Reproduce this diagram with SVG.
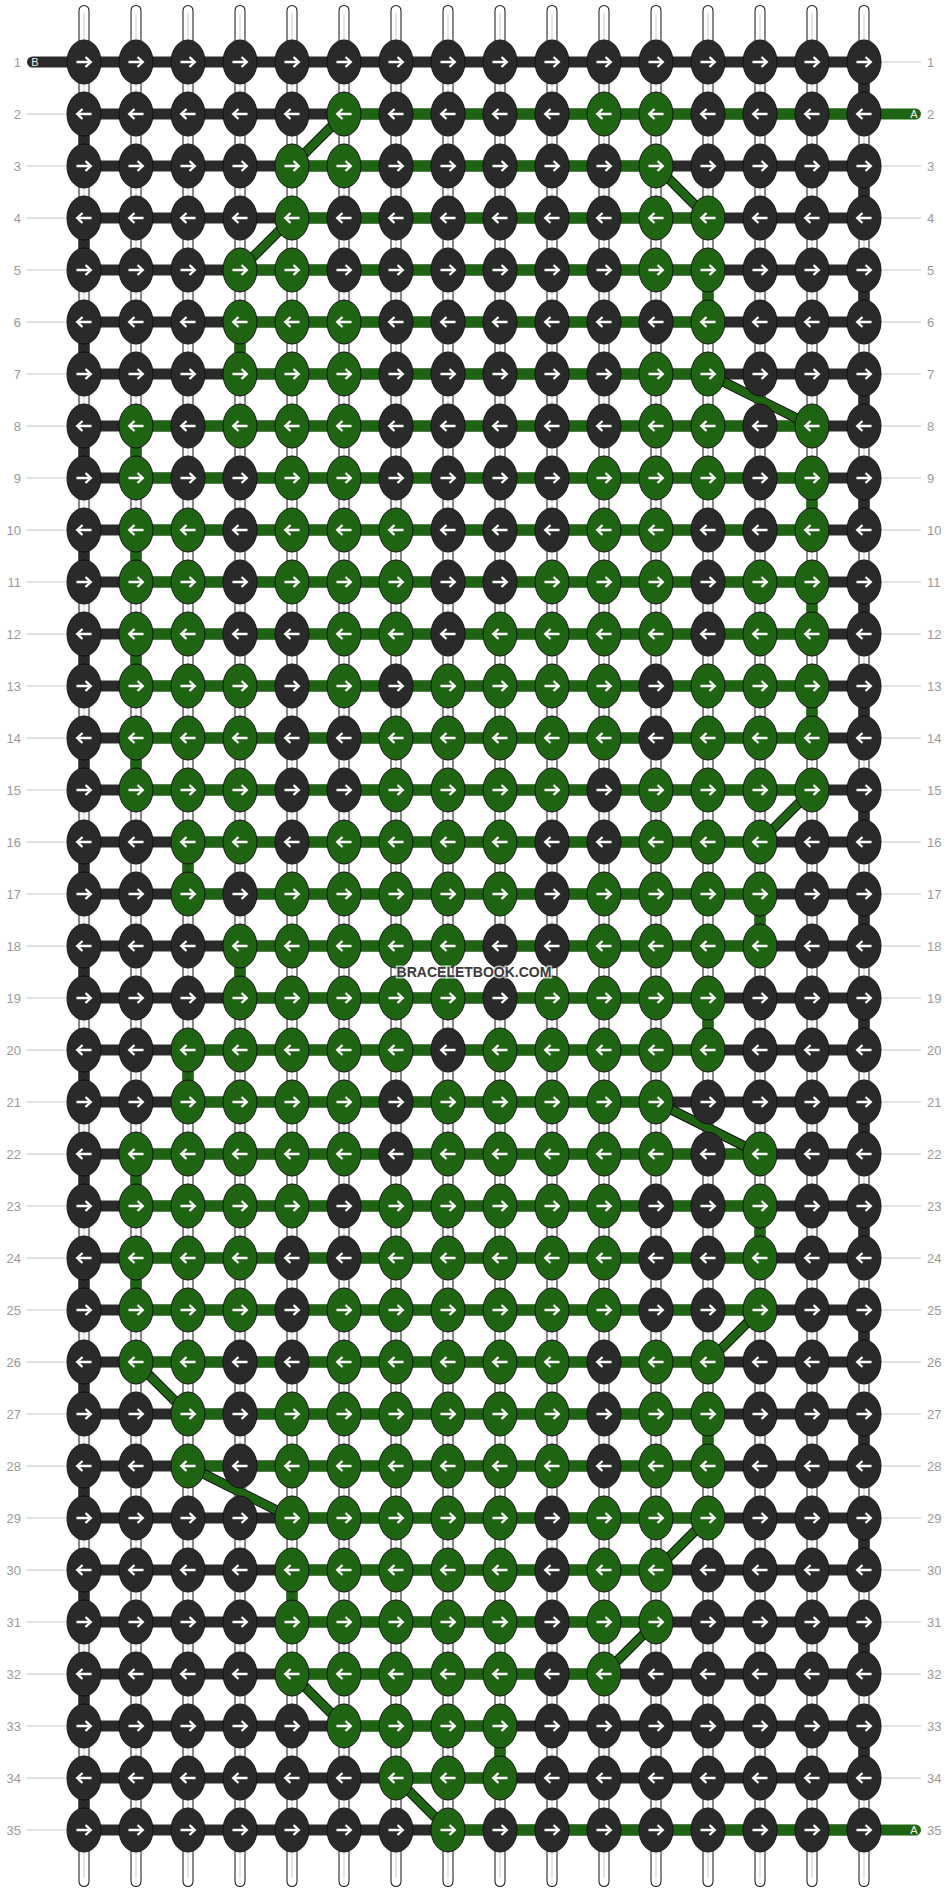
<svg xmlns="http://www.w3.org/2000/svg" width="948" height="1892" viewBox="0 0 948 1892">
<style>
.d{fill:#2a2a2a}
.g{fill:#1f6412}
ellipse{rx:17px;ry:22px;stroke:#111;stroke-width:1}
.lbl{font-family:"Liberation Sans",Arial,sans-serif;font-size:13px;fill:#9a9a9a}
.lr{text-anchor:end}
.tag{font-family:"Liberation Sans",Arial,sans-serif;font-size:11px;fill:#f0f0f0;text-anchor:middle}
.wm{font-family:"Liberation Sans",Arial,sans-serif;font-size:14px;font-weight:bold;fill:#3a3a3a;text-anchor:middle;stroke:rgba(255,255,255,0.7);stroke-width:3px;paint-order:stroke}
</style>
<defs>
<path id="R" d="M-7.5,0H6.5M1.5,-5L6.8,0L1.5,5" fill="none" stroke="#fff" stroke-width="2.3"/>
<path id="L" d="M7.5,0H-6.5M-1.5,-5L-6.8,0L-1.5,5" fill="none" stroke="#fff" stroke-width="2.3"/>
</defs>
<rect width="948" height="1892" fill="#fff"/>
<g id="labels-lines" stroke="#c4c4c4" stroke-width="1">
<path d="M26,114H66M26,166H66M26,218H66M26,270H66M26,322H66M26,374H66M26,426H66M26,478H66M26,530H66M26,582H66M26,634H66M26,686H66M26,738H66M26,790H66M26,842H66M26,894H66M26,946H66M26,998H66M26,1050H66M26,1102H66M26,1154H66M26,1206H66M26,1258H66M26,1310H66M26,1362H66M26,1414H66M26,1466H66M26,1518H66M26,1570H66M26,1622H66M26,1674H66M26,1726H66M26,1778H66M26,1830H66"/>
<path d="M882,62H921M882,166H921M882,218H921M882,270H921M882,322H921M882,374H921M882,426H921M882,478H921M882,530H921M882,582H921M882,634H921M882,686H921M882,738H921M882,790H921M882,842H921M882,894H921M882,946H921M882,998H921M882,1050H921M882,1102H921M882,1154H921M882,1206H921M882,1258H921M882,1310H921M882,1362H921M882,1414H921M882,1466H921M882,1518H921M882,1570H921M882,1622H921M882,1674H921M882,1726H921M882,1778H921"/>
</g>
<g id="connectors" fill="none">
<g id="strings" stroke-linecap="round">
<path stroke="#111" stroke-width="11" d="M84,10.5V1881.5M136,10.5V1881.5M188,10.5V1881.5M240,10.5V1881.5M292,10.5V1881.5M344,10.5V1881.5M396,10.5V1881.5M448,10.5V1881.5M500,10.5V1881.5M552,10.5V1881.5M604,10.5V1881.5M656,10.5V1881.5M708,10.5V1881.5M760,10.5V1881.5M812,10.5V1881.5M864,10.5V1881.5"/>
<path stroke="#fff" stroke-width="9" d="M84,10.5V1881.5M136,10.5V1881.5M188,10.5V1881.5M240,10.5V1881.5M292,10.5V1881.5M344,10.5V1881.5M396,10.5V1881.5M448,10.5V1881.5M500,10.5V1881.5M552,10.5V1881.5M604,10.5V1881.5M656,10.5V1881.5M708,10.5V1881.5M760,10.5V1881.5M812,10.5V1881.5M864,10.5V1881.5"/>
<path stroke="#c8c8c8" stroke-width="1" d="M84,14V1878M136,14V1878M188,14V1878M240,14V1878M292,14V1878M344,14V1878M396,14V1878M448,14V1878M500,14V1878M552,14V1878M604,14V1878M656,14V1878M708,14V1878M760,14V1878M812,14V1878M864,14V1878"/>
</g>
<path id="dark-turns" stroke="#2a2a2a" stroke-width="11" d="M864,62V114M84,114V166M864,166V218M84,218V270M864,270V322M84,322V374M864,374V426M84,426V478M864,478V530M84,530V582M864,582V634M84,634V686M864,686V738M84,738V790M864,790V842M84,842V894M864,894V946M84,946V998M864,998V1050M84,1050V1102M864,1102V1154M84,1154V1206M864,1206V1258M84,1258V1310M864,1310V1362M84,1362V1414M864,1414V1466M84,1466V1518M864,1518V1570M84,1570V1622M864,1622V1674M84,1674V1726M864,1726V1778M84,1778V1830"/>
<path id="green-turns" stroke="#1f6412" stroke-width="11" d="M708,270V322M240,322V374M136,426V478M812,478V530M136,530V582M812,582V634M136,634V686M812,686V738M136,738V790M188,842V894M760,894V946M240,946V998M708,998V1050M188,1050V1102M136,1154V1206M760,1206V1258M136,1258V1310M708,1414V1466M292,1570V1622M500,1726V1778"/>
<path id="dark-rows" stroke="#2a2a2a" stroke-width="11" d="M84,114H864M84,166H864M84,218H864M84,270H864M84,322H864M84,374H864M84,426H864M84,478H864M84,530H864M84,582H864M84,634H864M84,686H864M84,738H864M84,790H864M84,842H864M84,894H864M84,946H864M84,998H864M84,1050H864M84,1102H864M84,1154H864M84,1206H864M84,1258H864M84,1310H864M84,1362H864M84,1414H864M84,1466H864M84,1518H864M84,1570H864M84,1622H864M84,1674H864M84,1726H864M84,1778H864M84,1830H864"/>
<path id="thread-B" stroke="#2a2a2a" stroke-width="11" stroke-linecap="round" d="M32.5,62H864"/>
<path id="green-rows" stroke="#1f6412" stroke-width="11" d="M292,166H656M292,218H708M240,270H708M240,322H708M240,374H708M136,426H812M136,478H812M136,530H812M136,582H812M136,634H812M136,686H812M136,738H812M136,790H812M188,842H760M188,894H760M240,946H760M240,998H708M188,1050H708M188,1102H656M136,1154H760M136,1206H760M136,1258H760M136,1310H760M136,1362H708M188,1414H708M188,1466H708M292,1518H708M292,1570H656M292,1622H656M292,1674H604M344,1726H500M396,1778H500"/>
<path id="thread-A" stroke="#1f6412" stroke-width="11" stroke-linecap="round" d="M344,114H915.5M448,1830H915.5"/>
<g id="diagonals">
<path stroke="#111" stroke-width="10" d="M344,114L292,166M656,166L708,218M292,218L240,270M708,374L812,426M812,790L760,842M656,1102L760,1154M760,1310L708,1362M136,1362L188,1414M188,1466L292,1518M708,1518L656,1570M656,1622L604,1674M292,1674L344,1726M396,1778L448,1830"/>
<path stroke="#1f6412" stroke-width="8" d="M344,114L292,166M656,166L708,218M292,218L240,270M708,374L812,426M812,790L760,842M656,1102L760,1154M760,1310L708,1362M136,1362L188,1414M188,1466L292,1518M708,1518L656,1570M656,1622L604,1674M292,1674L344,1726M396,1778L448,1830"/>
</g>
</g>
<g id="knots">
<g id="n1_1" transform="translate(84,62)"><ellipse class="d"/><use href="#R"/></g><g id="n1_2" transform="translate(136,62)"><ellipse class="d"/><use href="#R"/></g><g id="n1_3" transform="translate(188,62)"><ellipse class="d"/><use href="#R"/></g><g id="n1_4" transform="translate(240,62)"><ellipse class="d"/><use href="#R"/></g><g id="n1_5" transform="translate(292,62)"><ellipse class="d"/><use href="#R"/></g><g id="n1_6" transform="translate(344,62)"><ellipse class="d"/><use href="#R"/></g><g id="n1_7" transform="translate(396,62)"><ellipse class="d"/><use href="#R"/></g><g id="n1_8" transform="translate(448,62)"><ellipse class="d"/><use href="#R"/></g><g id="n1_9" transform="translate(500,62)"><ellipse class="d"/><use href="#R"/></g><g id="n1_10" transform="translate(552,62)"><ellipse class="d"/><use href="#R"/></g><g id="n1_11" transform="translate(604,62)"><ellipse class="d"/><use href="#R"/></g><g id="n1_12" transform="translate(656,62)"><ellipse class="d"/><use href="#R"/></g><g id="n1_13" transform="translate(708,62)"><ellipse class="d"/><use href="#R"/></g><g id="n1_14" transform="translate(760,62)"><ellipse class="d"/><use href="#R"/></g><g id="n1_15" transform="translate(812,62)"><ellipse class="d"/><use href="#R"/></g><g id="n1_16" transform="translate(864,62)"><ellipse class="d"/><use href="#R"/></g>
<g id="n2_1" transform="translate(84,114)"><ellipse class="d"/><use href="#L"/></g><g id="n2_2" transform="translate(136,114)"><ellipse class="d"/><use href="#L"/></g><g id="n2_3" transform="translate(188,114)"><ellipse class="d"/><use href="#L"/></g><g id="n2_4" transform="translate(240,114)"><ellipse class="d"/><use href="#L"/></g><g id="n2_5" transform="translate(292,114)"><ellipse class="d"/><use href="#L"/></g><g id="n2_6" transform="translate(344,114)"><ellipse class="g"/><use href="#L"/></g><g id="n2_7" transform="translate(396,114)"><ellipse class="d"/><use href="#L"/></g><g id="n2_8" transform="translate(448,114)"><ellipse class="d"/><use href="#L"/></g><g id="n2_9" transform="translate(500,114)"><ellipse class="d"/><use href="#L"/></g><g id="n2_10" transform="translate(552,114)"><ellipse class="d"/><use href="#L"/></g><g id="n2_11" transform="translate(604,114)"><ellipse class="g"/><use href="#L"/></g><g id="n2_12" transform="translate(656,114)"><ellipse class="g"/><use href="#L"/></g><g id="n2_13" transform="translate(708,114)"><ellipse class="d"/><use href="#L"/></g><g id="n2_14" transform="translate(760,114)"><ellipse class="d"/><use href="#L"/></g><g id="n2_15" transform="translate(812,114)"><ellipse class="d"/><use href="#L"/></g><g id="n2_16" transform="translate(864,114)"><ellipse class="d"/><use href="#L"/></g>
<g id="n3_1" transform="translate(84,166)"><ellipse class="d"/><use href="#R"/></g><g id="n3_2" transform="translate(136,166)"><ellipse class="d"/><use href="#R"/></g><g id="n3_3" transform="translate(188,166)"><ellipse class="d"/><use href="#R"/></g><g id="n3_4" transform="translate(240,166)"><ellipse class="d"/><use href="#R"/></g><g id="n3_5" transform="translate(292,166)"><ellipse class="g"/><use href="#R"/></g><g id="n3_6" transform="translate(344,166)"><ellipse class="g"/><use href="#R"/></g><g id="n3_7" transform="translate(396,166)"><ellipse class="d"/><use href="#R"/></g><g id="n3_8" transform="translate(448,166)"><ellipse class="d"/><use href="#R"/></g><g id="n3_9" transform="translate(500,166)"><ellipse class="d"/><use href="#R"/></g><g id="n3_10" transform="translate(552,166)"><ellipse class="d"/><use href="#R"/></g><g id="n3_11" transform="translate(604,166)"><ellipse class="d"/><use href="#R"/></g><g id="n3_12" transform="translate(656,166)"><ellipse class="g"/><use href="#R"/></g><g id="n3_13" transform="translate(708,166)"><ellipse class="d"/><use href="#R"/></g><g id="n3_14" transform="translate(760,166)"><ellipse class="d"/><use href="#R"/></g><g id="n3_15" transform="translate(812,166)"><ellipse class="d"/><use href="#R"/></g><g id="n3_16" transform="translate(864,166)"><ellipse class="d"/><use href="#R"/></g>
<g id="n4_1" transform="translate(84,218)"><ellipse class="d"/><use href="#L"/></g><g id="n4_2" transform="translate(136,218)"><ellipse class="d"/><use href="#L"/></g><g id="n4_3" transform="translate(188,218)"><ellipse class="d"/><use href="#L"/></g><g id="n4_4" transform="translate(240,218)"><ellipse class="d"/><use href="#L"/></g><g id="n4_5" transform="translate(292,218)"><ellipse class="g"/><use href="#L"/></g><g id="n4_6" transform="translate(344,218)"><ellipse class="d"/><use href="#L"/></g><g id="n4_7" transform="translate(396,218)"><ellipse class="d"/><use href="#L"/></g><g id="n4_8" transform="translate(448,218)"><ellipse class="d"/><use href="#L"/></g><g id="n4_9" transform="translate(500,218)"><ellipse class="d"/><use href="#L"/></g><g id="n4_10" transform="translate(552,218)"><ellipse class="d"/><use href="#L"/></g><g id="n4_11" transform="translate(604,218)"><ellipse class="d"/><use href="#L"/></g><g id="n4_12" transform="translate(656,218)"><ellipse class="g"/><use href="#L"/></g><g id="n4_13" transform="translate(708,218)"><ellipse class="g"/><use href="#L"/></g><g id="n4_14" transform="translate(760,218)"><ellipse class="d"/><use href="#L"/></g><g id="n4_15" transform="translate(812,218)"><ellipse class="d"/><use href="#L"/></g><g id="n4_16" transform="translate(864,218)"><ellipse class="d"/><use href="#L"/></g>
<g id="n5_1" transform="translate(84,270)"><ellipse class="d"/><use href="#R"/></g><g id="n5_2" transform="translate(136,270)"><ellipse class="d"/><use href="#R"/></g><g id="n5_3" transform="translate(188,270)"><ellipse class="d"/><use href="#R"/></g><g id="n5_4" transform="translate(240,270)"><ellipse class="g"/><use href="#R"/></g><g id="n5_5" transform="translate(292,270)"><ellipse class="g"/><use href="#R"/></g><g id="n5_6" transform="translate(344,270)"><ellipse class="d"/><use href="#R"/></g><g id="n5_7" transform="translate(396,270)"><ellipse class="d"/><use href="#R"/></g><g id="n5_8" transform="translate(448,270)"><ellipse class="d"/><use href="#R"/></g><g id="n5_9" transform="translate(500,270)"><ellipse class="d"/><use href="#R"/></g><g id="n5_10" transform="translate(552,270)"><ellipse class="d"/><use href="#R"/></g><g id="n5_11" transform="translate(604,270)"><ellipse class="d"/><use href="#R"/></g><g id="n5_12" transform="translate(656,270)"><ellipse class="g"/><use href="#R"/></g><g id="n5_13" transform="translate(708,270)"><ellipse class="g"/><use href="#R"/></g><g id="n5_14" transform="translate(760,270)"><ellipse class="d"/><use href="#R"/></g><g id="n5_15" transform="translate(812,270)"><ellipse class="d"/><use href="#R"/></g><g id="n5_16" transform="translate(864,270)"><ellipse class="d"/><use href="#R"/></g>
<g id="n6_1" transform="translate(84,322)"><ellipse class="d"/><use href="#L"/></g><g id="n6_2" transform="translate(136,322)"><ellipse class="d"/><use href="#L"/></g><g id="n6_3" transform="translate(188,322)"><ellipse class="d"/><use href="#L"/></g><g id="n6_4" transform="translate(240,322)"><ellipse class="g"/><use href="#L"/></g><g id="n6_5" transform="translate(292,322)"><ellipse class="g"/><use href="#L"/></g><g id="n6_6" transform="translate(344,322)"><ellipse class="g"/><use href="#L"/></g><g id="n6_7" transform="translate(396,322)"><ellipse class="d"/><use href="#L"/></g><g id="n6_8" transform="translate(448,322)"><ellipse class="d"/><use href="#L"/></g><g id="n6_9" transform="translate(500,322)"><ellipse class="d"/><use href="#L"/></g><g id="n6_10" transform="translate(552,322)"><ellipse class="d"/><use href="#L"/></g><g id="n6_11" transform="translate(604,322)"><ellipse class="d"/><use href="#L"/></g><g id="n6_12" transform="translate(656,322)"><ellipse class="d"/><use href="#L"/></g><g id="n6_13" transform="translate(708,322)"><ellipse class="g"/><use href="#L"/></g><g id="n6_14" transform="translate(760,322)"><ellipse class="d"/><use href="#L"/></g><g id="n6_15" transform="translate(812,322)"><ellipse class="d"/><use href="#L"/></g><g id="n6_16" transform="translate(864,322)"><ellipse class="d"/><use href="#L"/></g>
<g id="n7_1" transform="translate(84,374)"><ellipse class="d"/><use href="#R"/></g><g id="n7_2" transform="translate(136,374)"><ellipse class="d"/><use href="#R"/></g><g id="n7_3" transform="translate(188,374)"><ellipse class="d"/><use href="#R"/></g><g id="n7_4" transform="translate(240,374)"><ellipse class="g"/><use href="#R"/></g><g id="n7_5" transform="translate(292,374)"><ellipse class="g"/><use href="#R"/></g><g id="n7_6" transform="translate(344,374)"><ellipse class="g"/><use href="#R"/></g><g id="n7_7" transform="translate(396,374)"><ellipse class="d"/><use href="#R"/></g><g id="n7_8" transform="translate(448,374)"><ellipse class="d"/><use href="#R"/></g><g id="n7_9" transform="translate(500,374)"><ellipse class="d"/><use href="#R"/></g><g id="n7_10" transform="translate(552,374)"><ellipse class="d"/><use href="#R"/></g><g id="n7_11" transform="translate(604,374)"><ellipse class="d"/><use href="#R"/></g><g id="n7_12" transform="translate(656,374)"><ellipse class="g"/><use href="#R"/></g><g id="n7_13" transform="translate(708,374)"><ellipse class="g"/><use href="#R"/></g><g id="n7_14" transform="translate(760,374)"><ellipse class="d"/><use href="#R"/></g><g id="n7_15" transform="translate(812,374)"><ellipse class="d"/><use href="#R"/></g><g id="n7_16" transform="translate(864,374)"><ellipse class="d"/><use href="#R"/></g>
<g id="n8_1" transform="translate(84,426)"><ellipse class="d"/><use href="#L"/></g><g id="n8_2" transform="translate(136,426)"><ellipse class="g"/><use href="#L"/></g><g id="n8_3" transform="translate(188,426)"><ellipse class="d"/><use href="#L"/></g><g id="n8_4" transform="translate(240,426)"><ellipse class="g"/><use href="#L"/></g><g id="n8_5" transform="translate(292,426)"><ellipse class="g"/><use href="#L"/></g><g id="n8_6" transform="translate(344,426)"><ellipse class="g"/><use href="#L"/></g><g id="n8_7" transform="translate(396,426)"><ellipse class="d"/><use href="#L"/></g><g id="n8_8" transform="translate(448,426)"><ellipse class="d"/><use href="#L"/></g><g id="n8_9" transform="translate(500,426)"><ellipse class="d"/><use href="#L"/></g><g id="n8_10" transform="translate(552,426)"><ellipse class="d"/><use href="#L"/></g><g id="n8_11" transform="translate(604,426)"><ellipse class="d"/><use href="#L"/></g><g id="n8_12" transform="translate(656,426)"><ellipse class="g"/><use href="#L"/></g><g id="n8_13" transform="translate(708,426)"><ellipse class="g"/><use href="#L"/></g><g id="n8_14" transform="translate(760,426)"><ellipse class="d"/><use href="#L"/></g><g id="n8_15" transform="translate(812,426)"><ellipse class="g"/><use href="#L"/></g><g id="n8_16" transform="translate(864,426)"><ellipse class="d"/><use href="#L"/></g>
<g id="n9_1" transform="translate(84,478)"><ellipse class="d"/><use href="#R"/></g><g id="n9_2" transform="translate(136,478)"><ellipse class="g"/><use href="#R"/></g><g id="n9_3" transform="translate(188,478)"><ellipse class="d"/><use href="#R"/></g><g id="n9_4" transform="translate(240,478)"><ellipse class="d"/><use href="#R"/></g><g id="n9_5" transform="translate(292,478)"><ellipse class="g"/><use href="#R"/></g><g id="n9_6" transform="translate(344,478)"><ellipse class="g"/><use href="#R"/></g><g id="n9_7" transform="translate(396,478)"><ellipse class="d"/><use href="#R"/></g><g id="n9_8" transform="translate(448,478)"><ellipse class="d"/><use href="#R"/></g><g id="n9_9" transform="translate(500,478)"><ellipse class="d"/><use href="#R"/></g><g id="n9_10" transform="translate(552,478)"><ellipse class="d"/><use href="#R"/></g><g id="n9_11" transform="translate(604,478)"><ellipse class="g"/><use href="#R"/></g><g id="n9_12" transform="translate(656,478)"><ellipse class="g"/><use href="#R"/></g><g id="n9_13" transform="translate(708,478)"><ellipse class="g"/><use href="#R"/></g><g id="n9_14" transform="translate(760,478)"><ellipse class="d"/><use href="#R"/></g><g id="n9_15" transform="translate(812,478)"><ellipse class="g"/><use href="#R"/></g><g id="n9_16" transform="translate(864,478)"><ellipse class="d"/><use href="#R"/></g>
<g id="n10_1" transform="translate(84,530)"><ellipse class="d"/><use href="#L"/></g><g id="n10_2" transform="translate(136,530)"><ellipse class="g"/><use href="#L"/></g><g id="n10_3" transform="translate(188,530)"><ellipse class="g"/><use href="#L"/></g><g id="n10_4" transform="translate(240,530)"><ellipse class="d"/><use href="#L"/></g><g id="n10_5" transform="translate(292,530)"><ellipse class="g"/><use href="#L"/></g><g id="n10_6" transform="translate(344,530)"><ellipse class="g"/><use href="#L"/></g><g id="n10_7" transform="translate(396,530)"><ellipse class="g"/><use href="#L"/></g><g id="n10_8" transform="translate(448,530)"><ellipse class="d"/><use href="#L"/></g><g id="n10_9" transform="translate(500,530)"><ellipse class="d"/><use href="#L"/></g><g id="n10_10" transform="translate(552,530)"><ellipse class="d"/><use href="#L"/></g><g id="n10_11" transform="translate(604,530)"><ellipse class="g"/><use href="#L"/></g><g id="n10_12" transform="translate(656,530)"><ellipse class="g"/><use href="#L"/></g><g id="n10_13" transform="translate(708,530)"><ellipse class="d"/><use href="#L"/></g><g id="n10_14" transform="translate(760,530)"><ellipse class="d"/><use href="#L"/></g><g id="n10_15" transform="translate(812,530)"><ellipse class="g"/><use href="#L"/></g><g id="n10_16" transform="translate(864,530)"><ellipse class="d"/><use href="#L"/></g>
<g id="n11_1" transform="translate(84,582)"><ellipse class="d"/><use href="#R"/></g><g id="n11_2" transform="translate(136,582)"><ellipse class="g"/><use href="#R"/></g><g id="n11_3" transform="translate(188,582)"><ellipse class="g"/><use href="#R"/></g><g id="n11_4" transform="translate(240,582)"><ellipse class="d"/><use href="#R"/></g><g id="n11_5" transform="translate(292,582)"><ellipse class="g"/><use href="#R"/></g><g id="n11_6" transform="translate(344,582)"><ellipse class="g"/><use href="#R"/></g><g id="n11_7" transform="translate(396,582)"><ellipse class="g"/><use href="#R"/></g><g id="n11_8" transform="translate(448,582)"><ellipse class="d"/><use href="#R"/></g><g id="n11_9" transform="translate(500,582)"><ellipse class="d"/><use href="#R"/></g><g id="n11_10" transform="translate(552,582)"><ellipse class="g"/><use href="#R"/></g><g id="n11_11" transform="translate(604,582)"><ellipse class="g"/><use href="#R"/></g><g id="n11_12" transform="translate(656,582)"><ellipse class="g"/><use href="#R"/></g><g id="n11_13" transform="translate(708,582)"><ellipse class="d"/><use href="#R"/></g><g id="n11_14" transform="translate(760,582)"><ellipse class="g"/><use href="#R"/></g><g id="n11_15" transform="translate(812,582)"><ellipse class="g"/><use href="#R"/></g><g id="n11_16" transform="translate(864,582)"><ellipse class="d"/><use href="#R"/></g>
<g id="n12_1" transform="translate(84,634)"><ellipse class="d"/><use href="#L"/></g><g id="n12_2" transform="translate(136,634)"><ellipse class="g"/><use href="#L"/></g><g id="n12_3" transform="translate(188,634)"><ellipse class="g"/><use href="#L"/></g><g id="n12_4" transform="translate(240,634)"><ellipse class="d"/><use href="#L"/></g><g id="n12_5" transform="translate(292,634)"><ellipse class="d"/><use href="#L"/></g><g id="n12_6" transform="translate(344,634)"><ellipse class="g"/><use href="#L"/></g><g id="n12_7" transform="translate(396,634)"><ellipse class="g"/><use href="#L"/></g><g id="n12_8" transform="translate(448,634)"><ellipse class="d"/><use href="#L"/></g><g id="n12_9" transform="translate(500,634)"><ellipse class="g"/><use href="#L"/></g><g id="n12_10" transform="translate(552,634)"><ellipse class="g"/><use href="#L"/></g><g id="n12_11" transform="translate(604,634)"><ellipse class="g"/><use href="#L"/></g><g id="n12_12" transform="translate(656,634)"><ellipse class="g"/><use href="#L"/></g><g id="n12_13" transform="translate(708,634)"><ellipse class="d"/><use href="#L"/></g><g id="n12_14" transform="translate(760,634)"><ellipse class="g"/><use href="#L"/></g><g id="n12_15" transform="translate(812,634)"><ellipse class="g"/><use href="#L"/></g><g id="n12_16" transform="translate(864,634)"><ellipse class="d"/><use href="#L"/></g>
<g id="n13_1" transform="translate(84,686)"><ellipse class="d"/><use href="#R"/></g><g id="n13_2" transform="translate(136,686)"><ellipse class="g"/><use href="#R"/></g><g id="n13_3" transform="translate(188,686)"><ellipse class="g"/><use href="#R"/></g><g id="n13_4" transform="translate(240,686)"><ellipse class="g"/><use href="#R"/></g><g id="n13_5" transform="translate(292,686)"><ellipse class="d"/><use href="#R"/></g><g id="n13_6" transform="translate(344,686)"><ellipse class="g"/><use href="#R"/></g><g id="n13_7" transform="translate(396,686)"><ellipse class="d"/><use href="#R"/></g><g id="n13_8" transform="translate(448,686)"><ellipse class="g"/><use href="#R"/></g><g id="n13_9" transform="translate(500,686)"><ellipse class="g"/><use href="#R"/></g><g id="n13_10" transform="translate(552,686)"><ellipse class="g"/><use href="#R"/></g><g id="n13_11" transform="translate(604,686)"><ellipse class="g"/><use href="#R"/></g><g id="n13_12" transform="translate(656,686)"><ellipse class="d"/><use href="#R"/></g><g id="n13_13" transform="translate(708,686)"><ellipse class="g"/><use href="#R"/></g><g id="n13_14" transform="translate(760,686)"><ellipse class="g"/><use href="#R"/></g><g id="n13_15" transform="translate(812,686)"><ellipse class="g"/><use href="#R"/></g><g id="n13_16" transform="translate(864,686)"><ellipse class="d"/><use href="#R"/></g>
<g id="n14_1" transform="translate(84,738)"><ellipse class="d"/><use href="#L"/></g><g id="n14_2" transform="translate(136,738)"><ellipse class="g"/><use href="#L"/></g><g id="n14_3" transform="translate(188,738)"><ellipse class="g"/><use href="#L"/></g><g id="n14_4" transform="translate(240,738)"><ellipse class="g"/><use href="#L"/></g><g id="n14_5" transform="translate(292,738)"><ellipse class="d"/><use href="#L"/></g><g id="n14_6" transform="translate(344,738)"><ellipse class="d"/><use href="#L"/></g><g id="n14_7" transform="translate(396,738)"><ellipse class="g"/><use href="#L"/></g><g id="n14_8" transform="translate(448,738)"><ellipse class="g"/><use href="#L"/></g><g id="n14_9" transform="translate(500,738)"><ellipse class="g"/><use href="#L"/></g><g id="n14_10" transform="translate(552,738)"><ellipse class="g"/><use href="#L"/></g><g id="n14_11" transform="translate(604,738)"><ellipse class="g"/><use href="#L"/></g><g id="n14_12" transform="translate(656,738)"><ellipse class="d"/><use href="#L"/></g><g id="n14_13" transform="translate(708,738)"><ellipse class="g"/><use href="#L"/></g><g id="n14_14" transform="translate(760,738)"><ellipse class="g"/><use href="#L"/></g><g id="n14_15" transform="translate(812,738)"><ellipse class="g"/><use href="#L"/></g><g id="n14_16" transform="translate(864,738)"><ellipse class="d"/><use href="#L"/></g>
<g id="n15_1" transform="translate(84,790)"><ellipse class="d"/><use href="#R"/></g><g id="n15_2" transform="translate(136,790)"><ellipse class="g"/><use href="#R"/></g><g id="n15_3" transform="translate(188,790)"><ellipse class="g"/><use href="#R"/></g><g id="n15_4" transform="translate(240,790)"><ellipse class="g"/><use href="#R"/></g><g id="n15_5" transform="translate(292,790)"><ellipse class="d"/><use href="#R"/></g><g id="n15_6" transform="translate(344,790)"><ellipse class="d"/><use href="#R"/></g><g id="n15_7" transform="translate(396,790)"><ellipse class="g"/><use href="#R"/></g><g id="n15_8" transform="translate(448,790)"><ellipse class="g"/><use href="#R"/></g><g id="n15_9" transform="translate(500,790)"><ellipse class="g"/><use href="#R"/></g><g id="n15_10" transform="translate(552,790)"><ellipse class="g"/><use href="#R"/></g><g id="n15_11" transform="translate(604,790)"><ellipse class="d"/><use href="#R"/></g><g id="n15_12" transform="translate(656,790)"><ellipse class="g"/><use href="#R"/></g><g id="n15_13" transform="translate(708,790)"><ellipse class="g"/><use href="#R"/></g><g id="n15_14" transform="translate(760,790)"><ellipse class="g"/><use href="#R"/></g><g id="n15_15" transform="translate(812,790)"><ellipse class="g"/><use href="#R"/></g><g id="n15_16" transform="translate(864,790)"><ellipse class="d"/><use href="#R"/></g>
<g id="n16_1" transform="translate(84,842)"><ellipse class="d"/><use href="#L"/></g><g id="n16_2" transform="translate(136,842)"><ellipse class="d"/><use href="#L"/></g><g id="n16_3" transform="translate(188,842)"><ellipse class="g"/><use href="#L"/></g><g id="n16_4" transform="translate(240,842)"><ellipse class="g"/><use href="#L"/></g><g id="n16_5" transform="translate(292,842)"><ellipse class="d"/><use href="#L"/></g><g id="n16_6" transform="translate(344,842)"><ellipse class="g"/><use href="#L"/></g><g id="n16_7" transform="translate(396,842)"><ellipse class="g"/><use href="#L"/></g><g id="n16_8" transform="translate(448,842)"><ellipse class="g"/><use href="#L"/></g><g id="n16_9" transform="translate(500,842)"><ellipse class="g"/><use href="#L"/></g><g id="n16_10" transform="translate(552,842)"><ellipse class="d"/><use href="#L"/></g><g id="n16_11" transform="translate(604,842)"><ellipse class="d"/><use href="#L"/></g><g id="n16_12" transform="translate(656,842)"><ellipse class="g"/><use href="#L"/></g><g id="n16_13" transform="translate(708,842)"><ellipse class="g"/><use href="#L"/></g><g id="n16_14" transform="translate(760,842)"><ellipse class="g"/><use href="#L"/></g><g id="n16_15" transform="translate(812,842)"><ellipse class="d"/><use href="#L"/></g><g id="n16_16" transform="translate(864,842)"><ellipse class="d"/><use href="#L"/></g>
<g id="n17_1" transform="translate(84,894)"><ellipse class="d"/><use href="#R"/></g><g id="n17_2" transform="translate(136,894)"><ellipse class="d"/><use href="#R"/></g><g id="n17_3" transform="translate(188,894)"><ellipse class="g"/><use href="#R"/></g><g id="n17_4" transform="translate(240,894)"><ellipse class="d"/><use href="#R"/></g><g id="n17_5" transform="translate(292,894)"><ellipse class="g"/><use href="#R"/></g><g id="n17_6" transform="translate(344,894)"><ellipse class="g"/><use href="#R"/></g><g id="n17_7" transform="translate(396,894)"><ellipse class="g"/><use href="#R"/></g><g id="n17_8" transform="translate(448,894)"><ellipse class="g"/><use href="#R"/></g><g id="n17_9" transform="translate(500,894)"><ellipse class="g"/><use href="#R"/></g><g id="n17_10" transform="translate(552,894)"><ellipse class="d"/><use href="#R"/></g><g id="n17_11" transform="translate(604,894)"><ellipse class="g"/><use href="#R"/></g><g id="n17_12" transform="translate(656,894)"><ellipse class="g"/><use href="#R"/></g><g id="n17_13" transform="translate(708,894)"><ellipse class="g"/><use href="#R"/></g><g id="n17_14" transform="translate(760,894)"><ellipse class="g"/><use href="#R"/></g><g id="n17_15" transform="translate(812,894)"><ellipse class="d"/><use href="#R"/></g><g id="n17_16" transform="translate(864,894)"><ellipse class="d"/><use href="#R"/></g>
<g id="n18_1" transform="translate(84,946)"><ellipse class="d"/><use href="#L"/></g><g id="n18_2" transform="translate(136,946)"><ellipse class="d"/><use href="#L"/></g><g id="n18_3" transform="translate(188,946)"><ellipse class="d"/><use href="#L"/></g><g id="n18_4" transform="translate(240,946)"><ellipse class="g"/><use href="#L"/></g><g id="n18_5" transform="translate(292,946)"><ellipse class="g"/><use href="#L"/></g><g id="n18_6" transform="translate(344,946)"><ellipse class="g"/><use href="#L"/></g><g id="n18_7" transform="translate(396,946)"><ellipse class="g"/><use href="#L"/></g><g id="n18_8" transform="translate(448,946)"><ellipse class="g"/><use href="#L"/></g><g id="n18_9" transform="translate(500,946)"><ellipse class="d"/><use href="#L"/></g><g id="n18_10" transform="translate(552,946)"><ellipse class="d"/><use href="#L"/></g><g id="n18_11" transform="translate(604,946)"><ellipse class="g"/><use href="#L"/></g><g id="n18_12" transform="translate(656,946)"><ellipse class="g"/><use href="#L"/></g><g id="n18_13" transform="translate(708,946)"><ellipse class="g"/><use href="#L"/></g><g id="n18_14" transform="translate(760,946)"><ellipse class="g"/><use href="#L"/></g><g id="n18_15" transform="translate(812,946)"><ellipse class="d"/><use href="#L"/></g><g id="n18_16" transform="translate(864,946)"><ellipse class="d"/><use href="#L"/></g>
<g id="n19_1" transform="translate(84,998)"><ellipse class="d"/><use href="#R"/></g><g id="n19_2" transform="translate(136,998)"><ellipse class="d"/><use href="#R"/></g><g id="n19_3" transform="translate(188,998)"><ellipse class="d"/><use href="#R"/></g><g id="n19_4" transform="translate(240,998)"><ellipse class="g"/><use href="#R"/></g><g id="n19_5" transform="translate(292,998)"><ellipse class="g"/><use href="#R"/></g><g id="n19_6" transform="translate(344,998)"><ellipse class="g"/><use href="#R"/></g><g id="n19_7" transform="translate(396,998)"><ellipse class="g"/><use href="#R"/></g><g id="n19_8" transform="translate(448,998)"><ellipse class="g"/><use href="#R"/></g><g id="n19_9" transform="translate(500,998)"><ellipse class="d"/><use href="#R"/></g><g id="n19_10" transform="translate(552,998)"><ellipse class="g"/><use href="#R"/></g><g id="n19_11" transform="translate(604,998)"><ellipse class="g"/><use href="#R"/></g><g id="n19_12" transform="translate(656,998)"><ellipse class="g"/><use href="#R"/></g><g id="n19_13" transform="translate(708,998)"><ellipse class="g"/><use href="#R"/></g><g id="n19_14" transform="translate(760,998)"><ellipse class="d"/><use href="#R"/></g><g id="n19_15" transform="translate(812,998)"><ellipse class="d"/><use href="#R"/></g><g id="n19_16" transform="translate(864,998)"><ellipse class="d"/><use href="#R"/></g>
<g id="n20_1" transform="translate(84,1050)"><ellipse class="d"/><use href="#L"/></g><g id="n20_2" transform="translate(136,1050)"><ellipse class="d"/><use href="#L"/></g><g id="n20_3" transform="translate(188,1050)"><ellipse class="g"/><use href="#L"/></g><g id="n20_4" transform="translate(240,1050)"><ellipse class="g"/><use href="#L"/></g><g id="n20_5" transform="translate(292,1050)"><ellipse class="g"/><use href="#L"/></g><g id="n20_6" transform="translate(344,1050)"><ellipse class="g"/><use href="#L"/></g><g id="n20_7" transform="translate(396,1050)"><ellipse class="g"/><use href="#L"/></g><g id="n20_8" transform="translate(448,1050)"><ellipse class="d"/><use href="#L"/></g><g id="n20_9" transform="translate(500,1050)"><ellipse class="g"/><use href="#L"/></g><g id="n20_10" transform="translate(552,1050)"><ellipse class="g"/><use href="#L"/></g><g id="n20_11" transform="translate(604,1050)"><ellipse class="g"/><use href="#L"/></g><g id="n20_12" transform="translate(656,1050)"><ellipse class="g"/><use href="#L"/></g><g id="n20_13" transform="translate(708,1050)"><ellipse class="g"/><use href="#L"/></g><g id="n20_14" transform="translate(760,1050)"><ellipse class="d"/><use href="#L"/></g><g id="n20_15" transform="translate(812,1050)"><ellipse class="d"/><use href="#L"/></g><g id="n20_16" transform="translate(864,1050)"><ellipse class="d"/><use href="#L"/></g>
<g id="n21_1" transform="translate(84,1102)"><ellipse class="d"/><use href="#R"/></g><g id="n21_2" transform="translate(136,1102)"><ellipse class="d"/><use href="#R"/></g><g id="n21_3" transform="translate(188,1102)"><ellipse class="g"/><use href="#R"/></g><g id="n21_4" transform="translate(240,1102)"><ellipse class="g"/><use href="#R"/></g><g id="n21_5" transform="translate(292,1102)"><ellipse class="g"/><use href="#R"/></g><g id="n21_6" transform="translate(344,1102)"><ellipse class="g"/><use href="#R"/></g><g id="n21_7" transform="translate(396,1102)"><ellipse class="d"/><use href="#R"/></g><g id="n21_8" transform="translate(448,1102)"><ellipse class="g"/><use href="#R"/></g><g id="n21_9" transform="translate(500,1102)"><ellipse class="g"/><use href="#R"/></g><g id="n21_10" transform="translate(552,1102)"><ellipse class="g"/><use href="#R"/></g><g id="n21_11" transform="translate(604,1102)"><ellipse class="g"/><use href="#R"/></g><g id="n21_12" transform="translate(656,1102)"><ellipse class="g"/><use href="#R"/></g><g id="n21_13" transform="translate(708,1102)"><ellipse class="d"/><use href="#R"/></g><g id="n21_14" transform="translate(760,1102)"><ellipse class="d"/><use href="#R"/></g><g id="n21_15" transform="translate(812,1102)"><ellipse class="d"/><use href="#R"/></g><g id="n21_16" transform="translate(864,1102)"><ellipse class="d"/><use href="#R"/></g>
<g id="n22_1" transform="translate(84,1154)"><ellipse class="d"/><use href="#L"/></g><g id="n22_2" transform="translate(136,1154)"><ellipse class="g"/><use href="#L"/></g><g id="n22_3" transform="translate(188,1154)"><ellipse class="g"/><use href="#L"/></g><g id="n22_4" transform="translate(240,1154)"><ellipse class="g"/><use href="#L"/></g><g id="n22_5" transform="translate(292,1154)"><ellipse class="g"/><use href="#L"/></g><g id="n22_6" transform="translate(344,1154)"><ellipse class="g"/><use href="#L"/></g><g id="n22_7" transform="translate(396,1154)"><ellipse class="d"/><use href="#L"/></g><g id="n22_8" transform="translate(448,1154)"><ellipse class="g"/><use href="#L"/></g><g id="n22_9" transform="translate(500,1154)"><ellipse class="g"/><use href="#L"/></g><g id="n22_10" transform="translate(552,1154)"><ellipse class="g"/><use href="#L"/></g><g id="n22_11" transform="translate(604,1154)"><ellipse class="g"/><use href="#L"/></g><g id="n22_12" transform="translate(656,1154)"><ellipse class="g"/><use href="#L"/></g><g id="n22_13" transform="translate(708,1154)"><ellipse class="d"/><use href="#L"/></g><g id="n22_14" transform="translate(760,1154)"><ellipse class="g"/><use href="#L"/></g><g id="n22_15" transform="translate(812,1154)"><ellipse class="d"/><use href="#L"/></g><g id="n22_16" transform="translate(864,1154)"><ellipse class="d"/><use href="#L"/></g>
<g id="n23_1" transform="translate(84,1206)"><ellipse class="d"/><use href="#R"/></g><g id="n23_2" transform="translate(136,1206)"><ellipse class="g"/><use href="#R"/></g><g id="n23_3" transform="translate(188,1206)"><ellipse class="g"/><use href="#R"/></g><g id="n23_4" transform="translate(240,1206)"><ellipse class="g"/><use href="#R"/></g><g id="n23_5" transform="translate(292,1206)"><ellipse class="g"/><use href="#R"/></g><g id="n23_6" transform="translate(344,1206)"><ellipse class="d"/><use href="#R"/></g><g id="n23_7" transform="translate(396,1206)"><ellipse class="g"/><use href="#R"/></g><g id="n23_8" transform="translate(448,1206)"><ellipse class="g"/><use href="#R"/></g><g id="n23_9" transform="translate(500,1206)"><ellipse class="g"/><use href="#R"/></g><g id="n23_10" transform="translate(552,1206)"><ellipse class="g"/><use href="#R"/></g><g id="n23_11" transform="translate(604,1206)"><ellipse class="g"/><use href="#R"/></g><g id="n23_12" transform="translate(656,1206)"><ellipse class="d"/><use href="#R"/></g><g id="n23_13" transform="translate(708,1206)"><ellipse class="d"/><use href="#R"/></g><g id="n23_14" transform="translate(760,1206)"><ellipse class="g"/><use href="#R"/></g><g id="n23_15" transform="translate(812,1206)"><ellipse class="d"/><use href="#R"/></g><g id="n23_16" transform="translate(864,1206)"><ellipse class="d"/><use href="#R"/></g>
<g id="n24_1" transform="translate(84,1258)"><ellipse class="d"/><use href="#L"/></g><g id="n24_2" transform="translate(136,1258)"><ellipse class="g"/><use href="#L"/></g><g id="n24_3" transform="translate(188,1258)"><ellipse class="g"/><use href="#L"/></g><g id="n24_4" transform="translate(240,1258)"><ellipse class="g"/><use href="#L"/></g><g id="n24_5" transform="translate(292,1258)"><ellipse class="d"/><use href="#L"/></g><g id="n24_6" transform="translate(344,1258)"><ellipse class="d"/><use href="#L"/></g><g id="n24_7" transform="translate(396,1258)"><ellipse class="g"/><use href="#L"/></g><g id="n24_8" transform="translate(448,1258)"><ellipse class="g"/><use href="#L"/></g><g id="n24_9" transform="translate(500,1258)"><ellipse class="g"/><use href="#L"/></g><g id="n24_10" transform="translate(552,1258)"><ellipse class="g"/><use href="#L"/></g><g id="n24_11" transform="translate(604,1258)"><ellipse class="g"/><use href="#L"/></g><g id="n24_12" transform="translate(656,1258)"><ellipse class="d"/><use href="#L"/></g><g id="n24_13" transform="translate(708,1258)"><ellipse class="d"/><use href="#L"/></g><g id="n24_14" transform="translate(760,1258)"><ellipse class="g"/><use href="#L"/></g><g id="n24_15" transform="translate(812,1258)"><ellipse class="d"/><use href="#L"/></g><g id="n24_16" transform="translate(864,1258)"><ellipse class="d"/><use href="#L"/></g>
<g id="n25_1" transform="translate(84,1310)"><ellipse class="d"/><use href="#R"/></g><g id="n25_2" transform="translate(136,1310)"><ellipse class="g"/><use href="#R"/></g><g id="n25_3" transform="translate(188,1310)"><ellipse class="g"/><use href="#R"/></g><g id="n25_4" transform="translate(240,1310)"><ellipse class="g"/><use href="#R"/></g><g id="n25_5" transform="translate(292,1310)"><ellipse class="d"/><use href="#R"/></g><g id="n25_6" transform="translate(344,1310)"><ellipse class="g"/><use href="#R"/></g><g id="n25_7" transform="translate(396,1310)"><ellipse class="g"/><use href="#R"/></g><g id="n25_8" transform="translate(448,1310)"><ellipse class="g"/><use href="#R"/></g><g id="n25_9" transform="translate(500,1310)"><ellipse class="g"/><use href="#R"/></g><g id="n25_10" transform="translate(552,1310)"><ellipse class="g"/><use href="#R"/></g><g id="n25_11" transform="translate(604,1310)"><ellipse class="g"/><use href="#R"/></g><g id="n25_12" transform="translate(656,1310)"><ellipse class="d"/><use href="#R"/></g><g id="n25_13" transform="translate(708,1310)"><ellipse class="d"/><use href="#R"/></g><g id="n25_14" transform="translate(760,1310)"><ellipse class="g"/><use href="#R"/></g><g id="n25_15" transform="translate(812,1310)"><ellipse class="d"/><use href="#R"/></g><g id="n25_16" transform="translate(864,1310)"><ellipse class="d"/><use href="#R"/></g>
<g id="n26_1" transform="translate(84,1362)"><ellipse class="d"/><use href="#L"/></g><g id="n26_2" transform="translate(136,1362)"><ellipse class="g"/><use href="#L"/></g><g id="n26_3" transform="translate(188,1362)"><ellipse class="g"/><use href="#L"/></g><g id="n26_4" transform="translate(240,1362)"><ellipse class="d"/><use href="#L"/></g><g id="n26_5" transform="translate(292,1362)"><ellipse class="d"/><use href="#L"/></g><g id="n26_6" transform="translate(344,1362)"><ellipse class="g"/><use href="#L"/></g><g id="n26_7" transform="translate(396,1362)"><ellipse class="g"/><use href="#L"/></g><g id="n26_8" transform="translate(448,1362)"><ellipse class="g"/><use href="#L"/></g><g id="n26_9" transform="translate(500,1362)"><ellipse class="g"/><use href="#L"/></g><g id="n26_10" transform="translate(552,1362)"><ellipse class="g"/><use href="#L"/></g><g id="n26_11" transform="translate(604,1362)"><ellipse class="d"/><use href="#L"/></g><g id="n26_12" transform="translate(656,1362)"><ellipse class="g"/><use href="#L"/></g><g id="n26_13" transform="translate(708,1362)"><ellipse class="g"/><use href="#L"/></g><g id="n26_14" transform="translate(760,1362)"><ellipse class="d"/><use href="#L"/></g><g id="n26_15" transform="translate(812,1362)"><ellipse class="d"/><use href="#L"/></g><g id="n26_16" transform="translate(864,1362)"><ellipse class="d"/><use href="#L"/></g>
<g id="n27_1" transform="translate(84,1414)"><ellipse class="d"/><use href="#R"/></g><g id="n27_2" transform="translate(136,1414)"><ellipse class="d"/><use href="#R"/></g><g id="n27_3" transform="translate(188,1414)"><ellipse class="g"/><use href="#R"/></g><g id="n27_4" transform="translate(240,1414)"><ellipse class="d"/><use href="#R"/></g><g id="n27_5" transform="translate(292,1414)"><ellipse class="g"/><use href="#R"/></g><g id="n27_6" transform="translate(344,1414)"><ellipse class="g"/><use href="#R"/></g><g id="n27_7" transform="translate(396,1414)"><ellipse class="g"/><use href="#R"/></g><g id="n27_8" transform="translate(448,1414)"><ellipse class="g"/><use href="#R"/></g><g id="n27_9" transform="translate(500,1414)"><ellipse class="g"/><use href="#R"/></g><g id="n27_10" transform="translate(552,1414)"><ellipse class="g"/><use href="#R"/></g><g id="n27_11" transform="translate(604,1414)"><ellipse class="d"/><use href="#R"/></g><g id="n27_12" transform="translate(656,1414)"><ellipse class="g"/><use href="#R"/></g><g id="n27_13" transform="translate(708,1414)"><ellipse class="g"/><use href="#R"/></g><g id="n27_14" transform="translate(760,1414)"><ellipse class="d"/><use href="#R"/></g><g id="n27_15" transform="translate(812,1414)"><ellipse class="d"/><use href="#R"/></g><g id="n27_16" transform="translate(864,1414)"><ellipse class="d"/><use href="#R"/></g>
<g id="n28_1" transform="translate(84,1466)"><ellipse class="d"/><use href="#L"/></g><g id="n28_2" transform="translate(136,1466)"><ellipse class="d"/><use href="#L"/></g><g id="n28_3" transform="translate(188,1466)"><ellipse class="g"/><use href="#L"/></g><g id="n28_4" transform="translate(240,1466)"><ellipse class="d"/><use href="#L"/></g><g id="n28_5" transform="translate(292,1466)"><ellipse class="g"/><use href="#L"/></g><g id="n28_6" transform="translate(344,1466)"><ellipse class="g"/><use href="#L"/></g><g id="n28_7" transform="translate(396,1466)"><ellipse class="g"/><use href="#L"/></g><g id="n28_8" transform="translate(448,1466)"><ellipse class="g"/><use href="#L"/></g><g id="n28_9" transform="translate(500,1466)"><ellipse class="g"/><use href="#L"/></g><g id="n28_10" transform="translate(552,1466)"><ellipse class="g"/><use href="#L"/></g><g id="n28_11" transform="translate(604,1466)"><ellipse class="d"/><use href="#L"/></g><g id="n28_12" transform="translate(656,1466)"><ellipse class="g"/><use href="#L"/></g><g id="n28_13" transform="translate(708,1466)"><ellipse class="g"/><use href="#L"/></g><g id="n28_14" transform="translate(760,1466)"><ellipse class="d"/><use href="#L"/></g><g id="n28_15" transform="translate(812,1466)"><ellipse class="d"/><use href="#L"/></g><g id="n28_16" transform="translate(864,1466)"><ellipse class="d"/><use href="#L"/></g>
<g id="n29_1" transform="translate(84,1518)"><ellipse class="d"/><use href="#R"/></g><g id="n29_2" transform="translate(136,1518)"><ellipse class="d"/><use href="#R"/></g><g id="n29_3" transform="translate(188,1518)"><ellipse class="d"/><use href="#R"/></g><g id="n29_4" transform="translate(240,1518)"><ellipse class="d"/><use href="#R"/></g><g id="n29_5" transform="translate(292,1518)"><ellipse class="g"/><use href="#R"/></g><g id="n29_6" transform="translate(344,1518)"><ellipse class="g"/><use href="#R"/></g><g id="n29_7" transform="translate(396,1518)"><ellipse class="g"/><use href="#R"/></g><g id="n29_8" transform="translate(448,1518)"><ellipse class="g"/><use href="#R"/></g><g id="n29_9" transform="translate(500,1518)"><ellipse class="g"/><use href="#R"/></g><g id="n29_10" transform="translate(552,1518)"><ellipse class="d"/><use href="#R"/></g><g id="n29_11" transform="translate(604,1518)"><ellipse class="g"/><use href="#R"/></g><g id="n29_12" transform="translate(656,1518)"><ellipse class="g"/><use href="#R"/></g><g id="n29_13" transform="translate(708,1518)"><ellipse class="g"/><use href="#R"/></g><g id="n29_14" transform="translate(760,1518)"><ellipse class="d"/><use href="#R"/></g><g id="n29_15" transform="translate(812,1518)"><ellipse class="d"/><use href="#R"/></g><g id="n29_16" transform="translate(864,1518)"><ellipse class="d"/><use href="#R"/></g>
<g id="n30_1" transform="translate(84,1570)"><ellipse class="d"/><use href="#L"/></g><g id="n30_2" transform="translate(136,1570)"><ellipse class="d"/><use href="#L"/></g><g id="n30_3" transform="translate(188,1570)"><ellipse class="d"/><use href="#L"/></g><g id="n30_4" transform="translate(240,1570)"><ellipse class="d"/><use href="#L"/></g><g id="n30_5" transform="translate(292,1570)"><ellipse class="g"/><use href="#L"/></g><g id="n30_6" transform="translate(344,1570)"><ellipse class="g"/><use href="#L"/></g><g id="n30_7" transform="translate(396,1570)"><ellipse class="g"/><use href="#L"/></g><g id="n30_8" transform="translate(448,1570)"><ellipse class="g"/><use href="#L"/></g><g id="n30_9" transform="translate(500,1570)"><ellipse class="g"/><use href="#L"/></g><g id="n30_10" transform="translate(552,1570)"><ellipse class="d"/><use href="#L"/></g><g id="n30_11" transform="translate(604,1570)"><ellipse class="g"/><use href="#L"/></g><g id="n30_12" transform="translate(656,1570)"><ellipse class="g"/><use href="#L"/></g><g id="n30_13" transform="translate(708,1570)"><ellipse class="d"/><use href="#L"/></g><g id="n30_14" transform="translate(760,1570)"><ellipse class="d"/><use href="#L"/></g><g id="n30_15" transform="translate(812,1570)"><ellipse class="d"/><use href="#L"/></g><g id="n30_16" transform="translate(864,1570)"><ellipse class="d"/><use href="#L"/></g>
<g id="n31_1" transform="translate(84,1622)"><ellipse class="d"/><use href="#R"/></g><g id="n31_2" transform="translate(136,1622)"><ellipse class="d"/><use href="#R"/></g><g id="n31_3" transform="translate(188,1622)"><ellipse class="d"/><use href="#R"/></g><g id="n31_4" transform="translate(240,1622)"><ellipse class="d"/><use href="#R"/></g><g id="n31_5" transform="translate(292,1622)"><ellipse class="g"/><use href="#R"/></g><g id="n31_6" transform="translate(344,1622)"><ellipse class="g"/><use href="#R"/></g><g id="n31_7" transform="translate(396,1622)"><ellipse class="g"/><use href="#R"/></g><g id="n31_8" transform="translate(448,1622)"><ellipse class="g"/><use href="#R"/></g><g id="n31_9" transform="translate(500,1622)"><ellipse class="g"/><use href="#R"/></g><g id="n31_10" transform="translate(552,1622)"><ellipse class="d"/><use href="#R"/></g><g id="n31_11" transform="translate(604,1622)"><ellipse class="g"/><use href="#R"/></g><g id="n31_12" transform="translate(656,1622)"><ellipse class="g"/><use href="#R"/></g><g id="n31_13" transform="translate(708,1622)"><ellipse class="d"/><use href="#R"/></g><g id="n31_14" transform="translate(760,1622)"><ellipse class="d"/><use href="#R"/></g><g id="n31_15" transform="translate(812,1622)"><ellipse class="d"/><use href="#R"/></g><g id="n31_16" transform="translate(864,1622)"><ellipse class="d"/><use href="#R"/></g>
<g id="n32_1" transform="translate(84,1674)"><ellipse class="d"/><use href="#L"/></g><g id="n32_2" transform="translate(136,1674)"><ellipse class="d"/><use href="#L"/></g><g id="n32_3" transform="translate(188,1674)"><ellipse class="d"/><use href="#L"/></g><g id="n32_4" transform="translate(240,1674)"><ellipse class="d"/><use href="#L"/></g><g id="n32_5" transform="translate(292,1674)"><ellipse class="g"/><use href="#L"/></g><g id="n32_6" transform="translate(344,1674)"><ellipse class="g"/><use href="#L"/></g><g id="n32_7" transform="translate(396,1674)"><ellipse class="g"/><use href="#L"/></g><g id="n32_8" transform="translate(448,1674)"><ellipse class="g"/><use href="#L"/></g><g id="n32_9" transform="translate(500,1674)"><ellipse class="g"/><use href="#L"/></g><g id="n32_10" transform="translate(552,1674)"><ellipse class="d"/><use href="#L"/></g><g id="n32_11" transform="translate(604,1674)"><ellipse class="g"/><use href="#L"/></g><g id="n32_12" transform="translate(656,1674)"><ellipse class="d"/><use href="#L"/></g><g id="n32_13" transform="translate(708,1674)"><ellipse class="d"/><use href="#L"/></g><g id="n32_14" transform="translate(760,1674)"><ellipse class="d"/><use href="#L"/></g><g id="n32_15" transform="translate(812,1674)"><ellipse class="d"/><use href="#L"/></g><g id="n32_16" transform="translate(864,1674)"><ellipse class="d"/><use href="#L"/></g>
<g id="n33_1" transform="translate(84,1726)"><ellipse class="d"/><use href="#R"/></g><g id="n33_2" transform="translate(136,1726)"><ellipse class="d"/><use href="#R"/></g><g id="n33_3" transform="translate(188,1726)"><ellipse class="d"/><use href="#R"/></g><g id="n33_4" transform="translate(240,1726)"><ellipse class="d"/><use href="#R"/></g><g id="n33_5" transform="translate(292,1726)"><ellipse class="d"/><use href="#R"/></g><g id="n33_6" transform="translate(344,1726)"><ellipse class="g"/><use href="#R"/></g><g id="n33_7" transform="translate(396,1726)"><ellipse class="g"/><use href="#R"/></g><g id="n33_8" transform="translate(448,1726)"><ellipse class="g"/><use href="#R"/></g><g id="n33_9" transform="translate(500,1726)"><ellipse class="g"/><use href="#R"/></g><g id="n33_10" transform="translate(552,1726)"><ellipse class="d"/><use href="#R"/></g><g id="n33_11" transform="translate(604,1726)"><ellipse class="d"/><use href="#R"/></g><g id="n33_12" transform="translate(656,1726)"><ellipse class="d"/><use href="#R"/></g><g id="n33_13" transform="translate(708,1726)"><ellipse class="d"/><use href="#R"/></g><g id="n33_14" transform="translate(760,1726)"><ellipse class="d"/><use href="#R"/></g><g id="n33_15" transform="translate(812,1726)"><ellipse class="d"/><use href="#R"/></g><g id="n33_16" transform="translate(864,1726)"><ellipse class="d"/><use href="#R"/></g>
<g id="n34_1" transform="translate(84,1778)"><ellipse class="d"/><use href="#L"/></g><g id="n34_2" transform="translate(136,1778)"><ellipse class="d"/><use href="#L"/></g><g id="n34_3" transform="translate(188,1778)"><ellipse class="d"/><use href="#L"/></g><g id="n34_4" transform="translate(240,1778)"><ellipse class="d"/><use href="#L"/></g><g id="n34_5" transform="translate(292,1778)"><ellipse class="d"/><use href="#L"/></g><g id="n34_6" transform="translate(344,1778)"><ellipse class="d"/><use href="#L"/></g><g id="n34_7" transform="translate(396,1778)"><ellipse class="g"/><use href="#L"/></g><g id="n34_8" transform="translate(448,1778)"><ellipse class="g"/><use href="#L"/></g><g id="n34_9" transform="translate(500,1778)"><ellipse class="g"/><use href="#L"/></g><g id="n34_10" transform="translate(552,1778)"><ellipse class="d"/><use href="#L"/></g><g id="n34_11" transform="translate(604,1778)"><ellipse class="d"/><use href="#L"/></g><g id="n34_12" transform="translate(656,1778)"><ellipse class="d"/><use href="#L"/></g><g id="n34_13" transform="translate(708,1778)"><ellipse class="d"/><use href="#L"/></g><g id="n34_14" transform="translate(760,1778)"><ellipse class="d"/><use href="#L"/></g><g id="n34_15" transform="translate(812,1778)"><ellipse class="d"/><use href="#L"/></g><g id="n34_16" transform="translate(864,1778)"><ellipse class="d"/><use href="#L"/></g>
<g id="n35_1" transform="translate(84,1830)"><ellipse class="d"/><use href="#R"/></g><g id="n35_2" transform="translate(136,1830)"><ellipse class="d"/><use href="#R"/></g><g id="n35_3" transform="translate(188,1830)"><ellipse class="d"/><use href="#R"/></g><g id="n35_4" transform="translate(240,1830)"><ellipse class="d"/><use href="#R"/></g><g id="n35_5" transform="translate(292,1830)"><ellipse class="d"/><use href="#R"/></g><g id="n35_6" transform="translate(344,1830)"><ellipse class="d"/><use href="#R"/></g><g id="n35_7" transform="translate(396,1830)"><ellipse class="d"/><use href="#R"/></g><g id="n35_8" transform="translate(448,1830)"><ellipse class="g"/><use href="#R"/></g><g id="n35_9" transform="translate(500,1830)"><ellipse class="d"/><use href="#R"/></g><g id="n35_10" transform="translate(552,1830)"><ellipse class="d"/><use href="#R"/></g><g id="n35_11" transform="translate(604,1830)"><ellipse class="d"/><use href="#R"/></g><g id="n35_12" transform="translate(656,1830)"><ellipse class="d"/><use href="#R"/></g><g id="n35_13" transform="translate(708,1830)"><ellipse class="d"/><use href="#R"/></g><g id="n35_14" transform="translate(760,1830)"><ellipse class="d"/><use href="#R"/></g><g id="n35_15" transform="translate(812,1830)"><ellipse class="d"/><use href="#R"/></g><g id="n35_16" transform="translate(864,1830)"><ellipse class="d"/><use href="#R"/></g>
</g>
<g id="thread-tags">
<text class="tag" x="35" y="66">B</text>
<text class="tag" x="914" y="118">A</text>
<text class="tag" x="914" y="1834">A</text>
</g>
<g id="row-numbers" class="lbl">
<text class="lr" x="21" y="66.5">1</text><text class="lr" x="21" y="118.5">2</text><text class="lr" x="21" y="170.5">3</text><text class="lr" x="21" y="222.5">4</text><text class="lr" x="21" y="274.5">5</text><text class="lr" x="21" y="326.5">6</text><text class="lr" x="21" y="378.5">7</text><text class="lr" x="21" y="430.5">8</text><text class="lr" x="21" y="482.5">9</text><text class="lr" x="21" y="534.5">10</text><text class="lr" x="21" y="586.5">11</text><text class="lr" x="21" y="638.5">12</text><text class="lr" x="21" y="690.5">13</text><text class="lr" x="21" y="742.5">14</text><text class="lr" x="21" y="794.5">15</text><text class="lr" x="21" y="846.5">16</text><text class="lr" x="21" y="898.5">17</text><text class="lr" x="21" y="950.5">18</text><text class="lr" x="21" y="1002.5">19</text><text class="lr" x="21" y="1054.5">20</text><text class="lr" x="21" y="1106.5">21</text><text class="lr" x="21" y="1158.5">22</text><text class="lr" x="21" y="1210.5">23</text><text class="lr" x="21" y="1262.5">24</text><text class="lr" x="21" y="1314.5">25</text><text class="lr" x="21" y="1366.5">26</text><text class="lr" x="21" y="1418.5">27</text><text class="lr" x="21" y="1470.5">28</text><text class="lr" x="21" y="1522.5">29</text><text class="lr" x="21" y="1574.5">30</text><text class="lr" x="21" y="1626.5">31</text><text class="lr" x="21" y="1678.5">32</text><text class="lr" x="21" y="1730.5">33</text><text class="lr" x="21" y="1782.5">34</text><text class="lr" x="21" y="1834.5">35</text>
<text x="927" y="66.5">1</text><text x="927" y="118.5">2</text><text x="927" y="170.5">3</text><text x="927" y="222.5">4</text><text x="927" y="274.5">5</text><text x="927" y="326.5">6</text><text x="927" y="378.5">7</text><text x="927" y="430.5">8</text><text x="927" y="482.5">9</text><text x="927" y="534.5">10</text><text x="927" y="586.5">11</text><text x="927" y="638.5">12</text><text x="927" y="690.5">13</text><text x="927" y="742.5">14</text><text x="927" y="794.5">15</text><text x="927" y="846.5">16</text><text x="927" y="898.5">17</text><text x="927" y="950.5">18</text><text x="927" y="1002.5">19</text><text x="927" y="1054.5">20</text><text x="927" y="1106.5">21</text><text x="927" y="1158.5">22</text><text x="927" y="1210.5">23</text><text x="927" y="1262.5">24</text><text x="927" y="1314.5">25</text><text x="927" y="1366.5">26</text><text x="927" y="1418.5">27</text><text x="927" y="1470.5">28</text><text x="927" y="1522.5">29</text><text x="927" y="1574.5">30</text><text x="927" y="1626.5">31</text><text x="927" y="1678.5">32</text><text x="927" y="1730.5">33</text><text x="927" y="1782.5">34</text><text x="927" y="1834.5">35</text>
</g>
<text id="watermark" class="wm" x="474" y="977">BRACELETBOOK.COM</text>
</svg>
